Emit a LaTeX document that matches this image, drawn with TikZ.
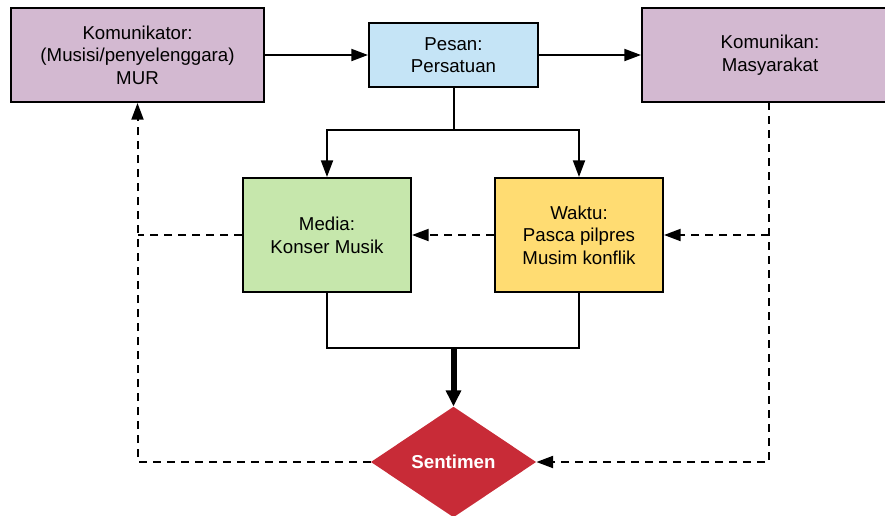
\documentclass[tikz,border=0pt]{standalone}
\usepackage{fontspec}
\setmainfont{Liberation Sans}
\usetikzlibrary{arrows.meta,shapes.geometric}
\definecolor{purp}{HTML}{D3B9D1}
\definecolor{blu}{HTML}{C5E4F6}
\definecolor{grn}{HTML}{C6E7AC}
\definecolor{yel}{HTML}{FFDC72}
\definecolor{redd}{HTML}{C82B37}
\begin{document}
\begin{tikzpicture}[x=0.75pt,y=-0.75pt,
  box/.style={draw=black,line width=1.5pt,align=center,inner sep=2pt,
    font=\fontsize{14}{17}\selectfont},
  conn/.style={line width=1.5pt,-{Triangle[length=12.5pt,width=9pt]}},
  plain/.style={line width=1.5pt},
  dconn/.style={line width=1.5pt,dash pattern=on 6pt off 4.5pt,-{Triangle[length=12.5pt,width=9pt]}},
  dplain/.style={line width=1.5pt,dash pattern=on 6pt off 4.5pt},
  bigconn/.style={line width=4.5pt,-{Triangle[length=12pt,width=11pt]}}]
\useasboundingbox (0,0) rectangle (885,515);
\node[box,fill=purp,minimum width=189.75pt,minimum height=70.5pt] (kom) at (137.5,55)
  {Komunikator:\\(Musisi/penyelenggara)\\MUR};
\node[box,fill=blu,minimum width=126.75pt,minimum height=48pt] (pesan) at (453.5,55)
  {Pesan:\\Persatuan};
\node[box,fill=purp,minimum width=192pt,minimum height=70.5pt] (kmk) at (770,55)
  {Komunikan:\\Masyarakat};
\node[box,fill=grn,minimum width=126pt,minimum height=85.5pt] (media) at (327,235)
  {Media:\\Konser Musik};
\node[box,fill=yel,minimum width=126pt,minimum height=85.5pt] (waktu) at (579,235)
  {Waktu:\\Pasca pilpres\\Musim konflik};
\node[diamond,fill=redd,draw=none,inner sep=0pt,minimum width=124pt,minimum height=83pt,
  text=white,font=\fontsize{14}{17}\selectfont\bfseries] (sent) at (453.5,462) {Sentimen};
\draw[conn] (kom.east) -- (pesan.west);
\draw[conn] (pesan.east) -- (kmk.west);
\coordinate (br) at (453.5,130);
\draw[plain] (pesan.south) -- (br);
\draw[conn] (br) -| (media.north);
\draw[conn] (br) -| (waktu.north);
\coordinate (jn) at (453.5,348);
\draw[plain] (media.south) |- (jn);
\draw[plain] (waktu.south) |- (jn);
\draw[bigconn] (jn) -- (sent.north);
\coordinate (rt) at (769,102);
\coordinate (rm) at (769,235);
\draw[dconn] (rt) |- (sent.east);
\draw[dconn] (rm) -- (waktu.east);
\draw[dconn] (waktu.west) -- (media.east);
\coordinate (lm) at (kom.south |- media.west);
\draw[dplain] (media.west) -- (lm);
\draw[dconn] (sent.west) -| (kom.south);
\end{tikzpicture}
\end{document}
